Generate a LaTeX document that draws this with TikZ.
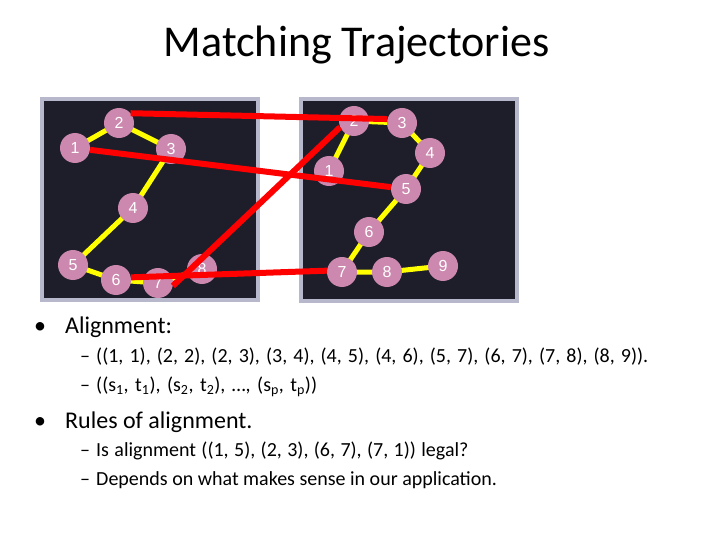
\documentclass[tikz,border=0pt]{standalone}
\usepackage{fontspec}
\setmainfont{Carlito}
\newfontfamily\nodefont{Liberation Sans}
\definecolor{paneldark}{HTML}{1E1E2B}
\definecolor{panelrim}{HTML}{B8B8CC}
\definecolor{nodepink}{HTML}{CC88AE}
\definecolor{linkyellow}{HTML}{FFFF00}
\definecolor{matchred}{HTML}{FF0000}
\tikzset{
  pt/.style={circle, fill=nodepink, minimum size=30pt, inner sep=0pt, text=white, font=\nodefont\fontsize{16}{16}\selectfont},
  link/.style={draw=linkyellow, line width=5pt},
  match/.style={draw=matchred, line width=6pt},
  txt/.style={anchor=base west, inner sep=0pt, text=black},
  big/.style={font=\fontsize{24}{24}\selectfont},
  small/.style={font=\fontsize{20}{20}\selectfont},
}
\begin{document}
\begin{tikzpicture}[x=1pt,y=-1pt]
\useasboundingbox (0,0) rectangle (720,540);
% panels
\fill[panelrim] (40,97) rectangle (260,302);
\fill[paneldark] (44,101) rectangle (256,298);
\fill[panelrim] (299,97) rectangle (519,303);
\fill[paneldark] (303,101) rectangle (515,299);
% left trajectory
\coordinate (cL1) at (75,148);
\coordinate (cL2) at (119,123);
\coordinate (cL3) at (171,149);
\coordinate (cL4) at (133,208);
\coordinate (cL5) at (73,265);
\coordinate (cL6) at (116,280);
\coordinate (cL7) at (158,283);
\coordinate (cL8) at (202,269);
\draw[link] (cL1) -- (cL2) -- (cL3) -- (cL4) -- (cL5) -- (cL6) -- (cL7) -- (cL8);
% right trajectory
\coordinate (cR1) at (329,171);
\coordinate (cR2) at (354,121);
\coordinate (cR3) at (402,123);
\coordinate (cR4) at (430,153);
\coordinate (cR5) at (406,189);
\coordinate (cR6) at (369,232);
\coordinate (cR7) at (342,272);
\coordinate (cR8) at (387,272);
\coordinate (cR9) at (443,266);
\draw[link] (cR1) -- (cR2) -- (cR3) -- (cR4) -- (cR5) -- (cR6) -- (cR7) -- (cR8) -- (cR9);
% nodes
\foreach \i in {1,...,8} { \node[pt] (L\i) at (cL\i) {\i}; }
\foreach \i in {1,...,9} { \node[pt] (R\i) at (cR\i) {\i}; }
% matches
\draw[match] (L2.40) -- (R3.165);
\draw[match] (L1) -- (R5);
\draw[match] (L7.-11) -- (R2.204);
\draw[match] (L6.10) -- (R7.175);
% title
\node[anchor=base, inner sep=0pt, font=\fontsize{44}{44}\selectfont] (title) at (356.5,56.5) {Matching Trajectories};
% bullets
\node[txt, big] (b1m) at (34,333) {•};
\node[txt, big] (b1) at (65,333) {Alignment:};
\node[txt, small] (s1m) at (80,362) {–};
\node[txt, small] (s1) at (96,362) {\spaceskip=6.1pt ((1, 1), (2, 2), (2, 3), (3, 4), (4, 5), (4, 6), (5, 7), (6, 7), (7, 8), (8, 9)).};
\node[txt, small] (s2m) at (80,391) {–};
\node[txt, small] (s2) at (96,391) {\spaceskip=6.5pt ((s\textsubscript{1}, t\textsubscript{1}), (s\textsubscript{2}, t\textsubscript{2}), …, (s\textsubscript{p}, t\textsubscript{p}))};
\node[txt, big] (b2m) at (34,428) {•};
\node[txt, big] (b2) at (65,428) {Rules of alignment.};
\node[txt, small] (s3m) at (80,456) {–};
\node[txt, small] (s3) at (96,456) {\spaceskip=5.4pt Is alignment ((1, 5), (2, 3), (6, 7), (7, 1)) legal?};
\node[txt, small] (s4m) at (80,485) {–};
\node[txt, small] (s4) at (96,485) {Depends on what makes sense in our application.};
\end{tikzpicture}
\end{document}
